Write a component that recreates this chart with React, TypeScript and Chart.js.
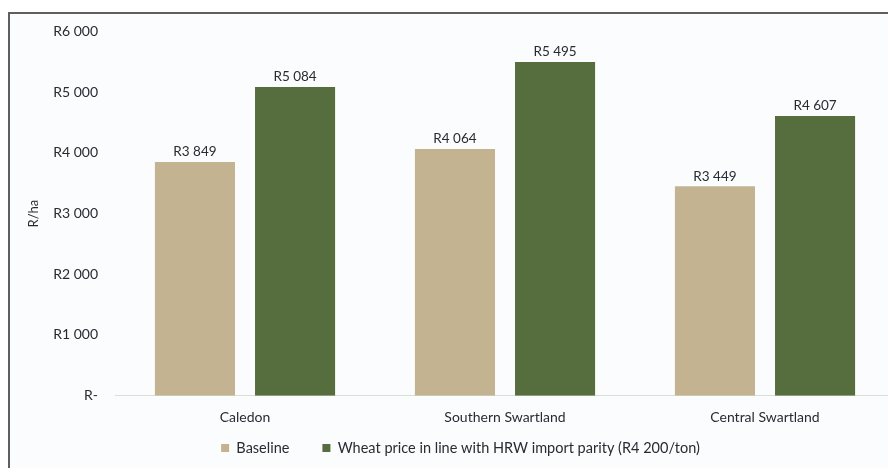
import React, { useEffect, useRef } from "react";
import { Chart, registerables } from "chart.js";

Chart.register(...registerables);

const categories = ["Caledon", "Southern Swartland", "Central Swartland"];
const baselineValues = [3849, 4064, 3449];
const hrwValues = [5084, 5495, 4607];
const seriesNames = ["Baseline", "Wheat price in line with HRW import parity (R4 200/ton)"];
const yTicks = [0, 1000, 2000, 3000, 4000, 5000, 6000];
const yTitle = "R/ha";

const FONT = "Lato, 'Open Sans', sans-serif";
const TEXT = "#272c32";

function fmt(v: number): string {
  if (v === 0) return "R-";
  const s = Math.round(v).toString();
  const parts: string[] = [];
  let rest = s;
  while (rest.length > 3) {
    parts.unshift(rest.slice(-3));
    rest = rest.slice(0, -3);
  }
  parts.unshift(rest);
  return "R" + parts.join(" ");
}

const labelPlugin = {
  id: "barLabels",
  afterDatasetsDraw(chart: any) {
    const ctx = chart.ctx;
    ctx.save();
    ctx.font = `13.5px ${FONT}`;
    ctx.fillStyle = TEXT;
    ctx.textAlign = "center";
    ctx.textBaseline = "middle";
    chart.data.datasets.forEach((ds: any, di: number) => {
      const meta = chart.getDatasetMeta(di);
      meta.data.forEach((el: any, i: number) => {
        ctx.fillText(fmt(ds.data[i]), el.x, el.y - 10);
      });
    });
    ctx.restore();
  },
};

// moves the legend box closer to the category labels
const legendPlacer = {
  id: "legendPlacer",
  afterLayout(chart: any) {
    const lg = chart.legend;
    if (!lg) return;
    const h = lg.bottom - lg.top;
    lg.top = chart.chartArea.bottom + 12;
    lg.bottom = lg.top + h;
  },
};

export default function App() {
  const ref = useRef<HTMLCanvasElement | null>(null);
  useEffect(() => {
    if (!ref.current) return;
    const chart = new Chart(ref.current, {
      type: "bar",
      data: {
        labels: categories,
        datasets: [
          { label: seriesNames[0], data: baselineValues, backgroundColor: "#c4b391" },
          { label: seriesNames[1], data: hrwValues, backgroundColor: "#566d3d" },
        ],
      },
      options: {
        responsive: false,
        animation: false,
        devicePixelRatio: 1,
        layout: { padding: { left: 16, right: 25, top: 11, bottom: 0 } },
        datasets: { bar: { categoryPercentage: 0.77, barPercentage: 0.8 } },
        plugins: {
          tooltip: { enabled: false },
          legend: {
            position: "bottom",
            labels: {
              boxWidth: 8,
              boxHeight: 8,
              padding: 33,
              color: TEXT,
              font: { family: FONT, size: 14.5 },
            },
          },
        },
        scales: {
          x: {
            grid: { display: false },
            border: { display: true, color: "#d7e0d4" },
            ticks: { color: TEXT, font: { family: FONT, size: 14 }, padding: 5 },
          },
          y: {
            min: 0,
            max: 6000,
            afterBuildTicks: (scale: any) => {
              scale.ticks = yTicks.map((v) => ({ value: v }));
            },
            afterFit: (scale: any) => {
              scale.width = 89;
            },
            grid: { display: false },
            border: { display: false },
            ticks: {
              color: TEXT,
              font: { family: FONT, size: 14 },
              padding: 9,
              callback: (v: any) => fmt(Number(v)),
            },
            title: {
              display: true,
              text: yTitle,
              color: TEXT,
              font: { family: FONT, size: 13 },
              padding: 0,
            },
          },
        },
      },
      plugins: [labelPlugin, legendPlacer],
    });
    return () => chart.destroy();
  }, []);

  return (
    <div style={{ position: "fixed", inset: 0, overflow: "hidden", background: "#ffffff" }}>
      <div
        style={{
          position: "absolute",
          left: 8,
          top: 12,
          width: 960,
          height: 500,
          borderTop: "2px solid #5f5f5f",
          borderLeft: "2px solid #5f5f5f",
          background: "#fbfcfe",
        }}
      >
        <canvas ref={ref} width={910} height={474} style={{ display: "block" }} />
      </div>
    </div>
  );
}
